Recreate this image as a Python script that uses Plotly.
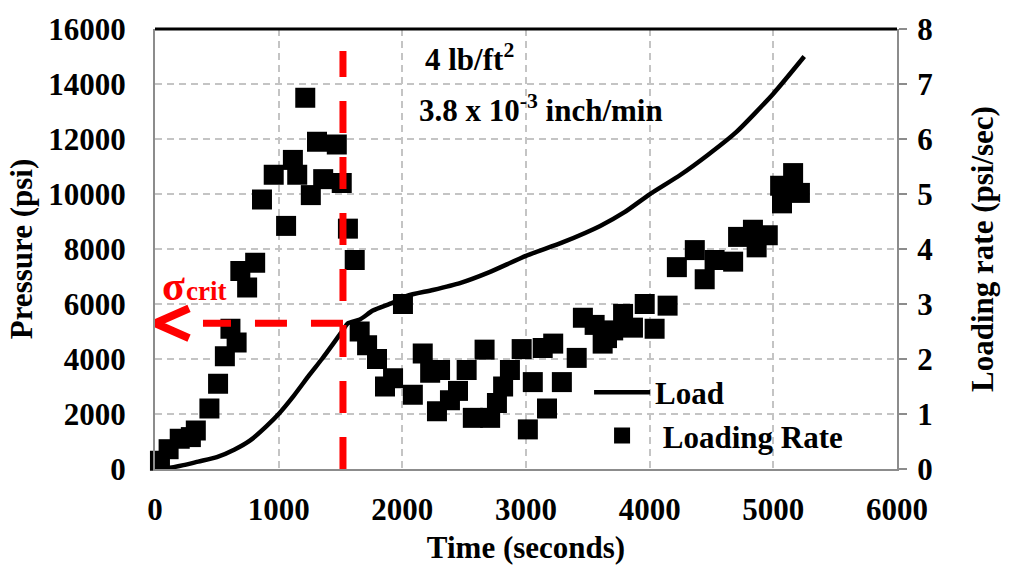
import plotly.graph_objects as go

# Load curve: pressure (psi) against time (s)
load_time = [0, 100, 230, 350, 500, 640, 770, 900, 1000, 1120, 1250, 1350, 1440, 1520,
             1560, 1657, 1762, 1924, 2037, 2247, 2466, 2700, 3000, 3300, 3600, 3800,
             4000, 4250, 4470, 4700, 5000, 5250]
load_psi = [0, 30, 140, 270, 430, 700, 1040, 1550, 2000, 2650, 3430, 4000, 4550, 5050,
            5300, 5440, 5760, 6050, 6300, 6510, 6760, 7150, 7750, 8250, 8840, 9350,
            9990, 10700, 11420, 12250, 13650, 15000]

# Loading rate (psi/sec) against time (s)
rate_time = [40, 110, 200, 290, 330, 440, 510, 565, 610, 660, 690, 745, 810, 865, 960,
             1060, 1115, 1150, 1215, 1260, 1310, 1360, 1470, 1510, 1560, 1615, 1655,
             1715, 1795, 1860, 1925, 2005, 2085, 2165, 2225, 2280, 2305, 2385, 2450,
             2520, 2570, 2665, 2710, 2765, 2815, 2870, 2965, 3015, 3055, 3135, 3170,
             3220, 3290, 3410, 3460, 3555, 3620, 3655, 3705, 3785, 3865, 3960, 4040,
             4145, 4220, 4365, 4445, 4525, 4675, 4715, 4835, 4865, 4955, 5055, 5070,
             5160, 5215]
rate_val = [0.15, 0.36, 0.55, 0.58, 0.70, 1.10, 1.55, 2.05, 2.55, 2.30, 3.60, 3.30, 3.75,
            4.90, 5.35, 4.42, 5.62, 5.35, 6.75, 4.98, 5.95, 5.27, 5.90, 5.20, 4.37, 3.80,
            2.50, 2.25, 2.00, 1.50, 1.65, 3.00, 1.35, 2.10, 1.75, 1.05, 1.80, 1.25, 1.42,
            1.80, 0.93, 2.17, 0.93, 1.20, 1.50, 1.80, 2.18, 0.72, 1.58, 2.20, 1.10, 2.28,
            1.58, 2.02, 2.75, 2.62, 2.28, 2.38, 2.52, 2.82, 2.57, 3.00, 2.55, 2.97, 3.67,
            3.98, 3.45, 3.80, 3.77, 4.22, 4.35, 4.03, 4.25, 5.15, 4.83, 5.38, 5.02]

# Critical stress marker
t_crit = 1520
sigma_crit = 5300
guide_top = 15200
guide_left = 388
chev_dx = 275
chev_dy = 540

x_ticks = [0, 1000, 2000, 3000, 4000, 5000, 6000]
y_ticks = [0, 2000, 4000, 6000, 8000, 10000, 12000, 14000, 16000]
y2_ticks = [0, 1, 2, 3, 4, 5, 6, 7, 8]

FONT = "Liberation Serif"
GRID = "#c4c4c4"
AXIS = "#8c8c8c"
RED = "#ff0000"

fig = go.Figure()

fig.add_trace(go.Scatter(
    x=load_time, y=load_psi, mode="lines", name="Load",
    line=dict(color="black", width=4.5, shape="spline", smoothing=0.6),
    yaxis="y", cliponaxis=False,
))
fig.add_trace(go.Scatter(
    x=rate_time, y=rate_val, mode="markers", name="\u00a0Loading Rate",
    marker=dict(symbol="square", size=20, color="black"),
    yaxis="y2", cliponaxis=False,
))
# Arrowhead of the critical-stress pointer
fig.add_trace(go.Scatter(
    x=[chev_dx, 0, chev_dx],
    y=[sigma_crit + chev_dy, sigma_crit, sigma_crit - chev_dy],
    mode="lines", line=dict(color=RED, width=8), showlegend=False,
    cliponaxis=False, hoverinfo="skip",
))

shapes = [
    dict(type="line", xref="x", yref="y", x0=t_crit, x1=t_crit, y0=0, y1=guide_top,
         line=dict(color=RED, width=7, dash="32px,24px")),
    dict(type="line", xref="x", yref="y", x0=t_crit, x1=guide_left, y0=sigma_crit, y1=sigma_crit,
         line=dict(color=RED, width=7, dash="32px,24px")),
    dict(type="line", xref="paper", yref="paper", x0=0, x1=1, y0=1, y1=1,
         line=dict(color="black", width=3)),
]

annotations = [
    dict(x=2170, y=14950, xref="x", yref="y", xanchor="left", yanchor="middle",
         text="4 lb/ft<sup>2</sup>", showarrow=False,
         font=dict(family=FONT, size=31, color="black", weight="bold")),
    dict(x=2120, y=13100, xref="x", yref="y", xanchor="left", yanchor="middle",
         text="3.8 x 10<sup>-3</sup> inch/min", showarrow=False,
         font=dict(family=FONT, size=31, color="black", weight="bold")),
    dict(x=40, y=6650, xref="x", yref="y", xanchor="left", yanchor="middle",
         text="σ", showarrow=False,
         font=dict(family=FONT, size=42, color=RED, weight="bold")),
    dict(x=235, y=6480, xref="x", yref="y", xanchor="left", yanchor="middle",
         text="crit", showarrow=False,
         font=dict(family=FONT, size=27, color=RED, weight="bold")),
]

fig.update_layout(
    width=1011, height=571,
    margin=dict(l=155, r=114, t=22, b=102),
    paper_bgcolor="white", plot_bgcolor="white",
    font=dict(family=FONT, size=31, color="black", weight="bold"),
    showlegend=True,
    legend=dict(x=0.585, y=0.235, xanchor="left", yanchor="top",
                bgcolor="rgba(0,0,0,0)", font=dict(family=FONT, size=31, weight="bold"),
                tracegroupgap=0, itemwidth=56),
    xaxis=dict(range=[0, 6000], tickvals=x_ticks, ticktext=[str(v) for v in x_ticks],
               showgrid=True, gridcolor=GRID, griddash="7px,5px", gridwidth=2,
               showline=True, linecolor=AXIS, linewidth=2, ticks="",
               ticklabelstandoff=12, zeroline=False,
               title=dict(text="Time (seconds)", standoff=10,
                          font=dict(family=FONT, size=31, weight="bold"))),
    yaxis=dict(range=[0, 16000], tickvals=y_ticks, ticktext=[str(v) for v in y_ticks],
               showgrid=True, gridcolor=GRID, griddash="7px,5px", gridwidth=2,
               showline=True, linecolor=AXIS, linewidth=2, ticks="",
               ticklabelstandoff=21, zeroline=False,
               title=dict(text="Pressure (psi)", standoff=6,
                          font=dict(family=FONT, size=31, weight="bold"))),
    yaxis2=dict(range=[0, 8], tickvals=y2_ticks, overlaying="y", side="right",
                showgrid=False, showline=True, linecolor=AXIS, linewidth=2,
                ticks="outside", ticklen=8, tickwidth=2, tickcolor=AXIS,
                ticklabelstandoff=4, zeroline=False,
                title=dict(text="Loading rate (psi/sec)", standoff=40,
                           font=dict(family=FONT, size=31, weight="bold"))),
    shapes=shapes,
    annotations=annotations,
)

fig.write_html("out.html")
